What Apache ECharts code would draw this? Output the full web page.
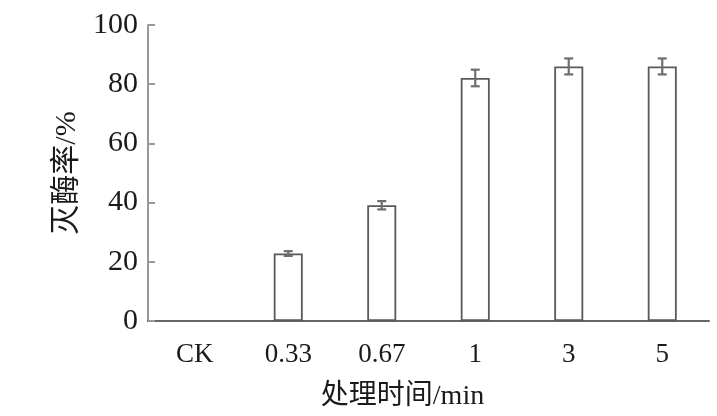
<!DOCTYPE html>
<html>
<head>
<meta charset="utf-8">
<script src="https://cdn.jsdelivr.net/npm/echarts@6/dist/echarts.min.js"></script>
<style>
html,body{margin:0;padding:0;background:#fff;}
#c{width:717px;height:416px;}
</style>
</head>
<body>
<div id="c"></div>
<script>
var categories = ['CK', '0.33', '0.67', '1', '3', '5'];
var values = [null, 22.8, 39.1, 82.1, 86.0, 86.0];
var errors = [null, 0.8, 1.4, 2.8, 2.7, 2.7];
var yTicks = [0, 20, 40, 60, 80, 100];

var FONT = '"Liberation Serif", "Noto Sans CJK SC", serif';
var chart = echarts.init(document.getElementById('c'));

var errData = categories.map(function (c, i) {
  return values[i] == null ? null : [i, values[i] - errors[i], values[i] + errors[i]];
}).filter(function (d) { return d; });

chart.setOption({
  animation: false,
  backgroundColor: '#fff',
  grid: { left: 148, right: 8, top: 25, bottom: 93, containLabel: false },
  xAxis: {
    type: 'category',
    data: categories,
    boundaryGap: true,
    name: '处理时间/min',
    nameLocation: 'middle',
    nameGap: 62,
    nameTextStyle: { fontFamily: FONT, fontSize: 28, color: '#1a1a1a', padding: [0, 52, 0, 0] },
    axisLine: { lineStyle: { color: '#666', width: 2 } },
    axisTick: { show: false },
    axisLabel: { fontFamily: FONT, fontSize: 27, color: '#1a1a1a', margin: 20 }
  },
  yAxis: {
    type: 'value',
    min: yTicks[0],
    max: yTicks[yTicks.length - 1],
    interval: 20,
    name: '灭酶率/%',
    nameLocation: 'middle',
    nameGap: 66,
    nameRotate: 90,
    nameTextStyle: { fontFamily: FONT, fontSize: 30, color: '#1a1a1a' },
    axisLine: { show: true, lineStyle: { color: '#999', width: 2 } },
    axisTick: { show: true, inside: true, length: 7, lineStyle: { color: '#999', width: 2 } },
    splitLine: { show: false },
    axisLabel: { fontFamily: FONT, fontSize: 30, color: '#1a1a1a', margin: 10 }
  },
  series: [
    {
      type: 'bar',
      data: values,
      barWidth: 29,
      itemStyle: { color: '#fff', borderColor: '#5a5a5a', borderWidth: 1.8 }
    },
    {
      type: 'custom',
      data: errData,
      z: 10,
      renderItem: function (params, api) {
        var x = api.value(0);
        var lo = api.coord([x, api.value(1)]);
        var hi = api.coord([x, api.value(2)]);
        var hw = 4.5;
        var style = { stroke: '#6e6e6e', lineWidth: 2.2 };
        return {
          type: 'group',
          children: [
            { type: 'line', shape: { x1: lo[0], y1: lo[1], x2: hi[0], y2: hi[1] }, style: style },
            { type: 'line', shape: { x1: lo[0] - hw, y1: lo[1], x2: lo[0] + hw, y2: lo[1] }, style: style },
            { type: 'line', shape: { x1: hi[0] - hw, y1: hi[1], x2: hi[0] + hw, y2: hi[1] }, style: style }
          ]
        };
      }
    }
  ]
});
</script>
</body>
</html>
